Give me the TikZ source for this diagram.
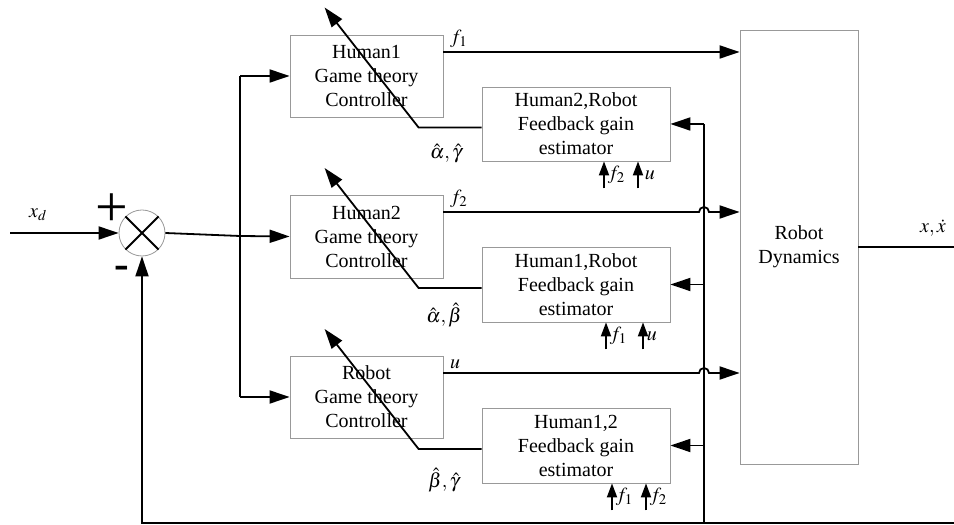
\documentclass[tikz,border=0pt]{standalone}
\usepackage{mathptmx}
\usepackage{fontspec}
\setmainfont{Liberation Serif}
\usetikzlibrary{arrows.meta}

\tikzset{
  block/.style={draw=black!40, line width=0.8pt, align=center,
    font=\fontsize{20}{24}\selectfont, inner sep=0pt},
  conn/.style={line width=1.8pt},
  arr/.style={conn, -{Triangle[length=20pt,width=13pt]}},
  sarr/.style={conn, -{Triangle[length=14pt,width=10pt]}},
  lbl/.style={font=\fontsize{20}{24}\selectfont, inner sep=1pt},
}

\begin{document}
\begin{tikzpicture}[x=1pt,y=1pt]
    \useasboundingbox (0,0) rectangle (954,525);
    % Definitions:
    \node[draw=black!40, line width=0.8pt, circle, minimum size=46pt] (sum) at (142,292) {};
    \node[block, minimum width=153, minimum height=82] (h1ctrl) at (366.5,449) {Human1\\Game theory\\Controller};
    \node[block, minimum width=153, minimum height=83] (h2ctrl) at (366.5,288.5) {Human2\\Game theory\\Controller};
    \node[block, minimum width=153, minimum height=82] (rctrl) at (366.5,128) {Robot\\Game theory\\Controller};
    \node[block, minimum width=188, minimum height=74] (est1) at (576,401) {Human2,Robot\\Feedback gain\\estimator};
    \node[block, minimum width=188, minimum height=75] (est2) at (576,240.5) {Human1,Robot\\Feedback gain\\estimator};
    \node[block, minimum width=188, minimum height=75] (est3) at (576,79.5) {Human1,2\\Feedback gain\\estimator};
    \node[block, minimum width=118, minimum height=434] (dyn) at (799,278) {Robot\\Dynamics};
    \coordinate (in) at (10,292);
    \coordinate (split) at (240,289);
    \coordinate (f1s) at (443,473);
    \coordinate (f2s) at (443,313);
    \coordinate (us) at (443,152);
    \coordinate (busx) at (704,0);
    \coordinate (out) at (954,278);
    \coordinate (fbr) at (954,2);
    % Drawing:
    \draw[line width=1.8pt] (sum.45) -- (sum.225) (sum.135) -- (sum.315);
    \draw[arr] (in) -- (sum.west);
    \draw[conn] (sum.east) -- (split);
    \draw[conn] (split |- h1ctrl.west) -- (split |- rctrl.west);
    \draw[arr] (split |- h1ctrl.west) -- (h1ctrl.west);
    \draw[arr] (split) -- (h2ctrl.west);
    \draw[arr] (split |- rctrl.west) -- (rctrl.west);
    \draw[arr] (f1s) -- (f1s -| dyn.west);
    \draw[arr] (f2s) -- ([xshift=-5pt]f2s -| busx) arc (180:0:5) -- (f2s -| dyn.west);
    \draw[arr] (us) -- ([xshift=-5pt]us -| busx) arc (180:0:5) -- (us -| dyn.west);
    \draw[conn] (dyn.east) -- (out);
    \draw[conn] (est1.east -| busx) -- (fbr -| busx);
    \draw[arr] (fbr) -- (fbr -| sum) -- (sum.south);
    \foreach \e in {est1,est2,est3}{
      \draw[arr] (\e.east -| busx) -- (\e.east);
      \draw[arr] ([yshift=-3.5pt]\e.west) -- ++(-63,0) -- ++(-94,120);
    }
    \draw[sarr] (est1.south) ++(28,-27) -- ++(0,27) node[lbl, midway, right=2pt] {$f_2$};
    \draw[sarr] (est1.south) ++(62,-27) -- ++(0,27) node[lbl, midway, right=5pt] {$u$};
    \draw[sarr] (est2.south) ++(30,-27) -- ++(0,27) node[lbl, midway, right=2pt] {$f_1$};
    \draw[sarr] (est2.south) ++(67,-27) -- ++(0,27) node[lbl, midway, right=2pt] {$u$};
    \draw[sarr] (est3.south) ++(36,-27) -- ++(0,27) node[lbl, midway, right=2pt] {$f_1$};
    \draw[sarr] (est3.south) ++(70,-27) -- ++(0,27) node[lbl, midway, right=2pt] {$f_2$};
    % Labels:
    \node[lbl] (xd) at (38,310) {$x_d$};
    \node[font=\fontsize{58}{58}\selectfont, inner sep=0pt] (plus) at (112,315) {+};
    \node[font=\fontsize{44}{44}\selectfont\bfseries, inner sep=0pt] (minus) at (122,253) {-};
    \node[lbl, anchor=south west] (f1) at ([xshift=6pt,yshift=3pt]f1s) {$f_1$};
    \node[lbl, anchor=south west] (f2) at ([xshift=6pt,yshift=3pt]f2s) {$f_2$};
    \node[lbl, anchor=south west] (u) at ([xshift=6pt,yshift=3pt]us) {$u$};
    \node[lbl] (ag) at (446,371) {$\hat{\alpha},\hat{\gamma}$};
    \node[lbl] (ab) at (444,210) {$\hat{\alpha},\hat{\beta}$};
    \node[lbl] (bg) at (444,45) {$\hat{\beta},\hat{\gamma}$};
    \node[lbl] (xout) at (933,297) {$x,\dot{x}$};
\end{tikzpicture}
\end{document}
